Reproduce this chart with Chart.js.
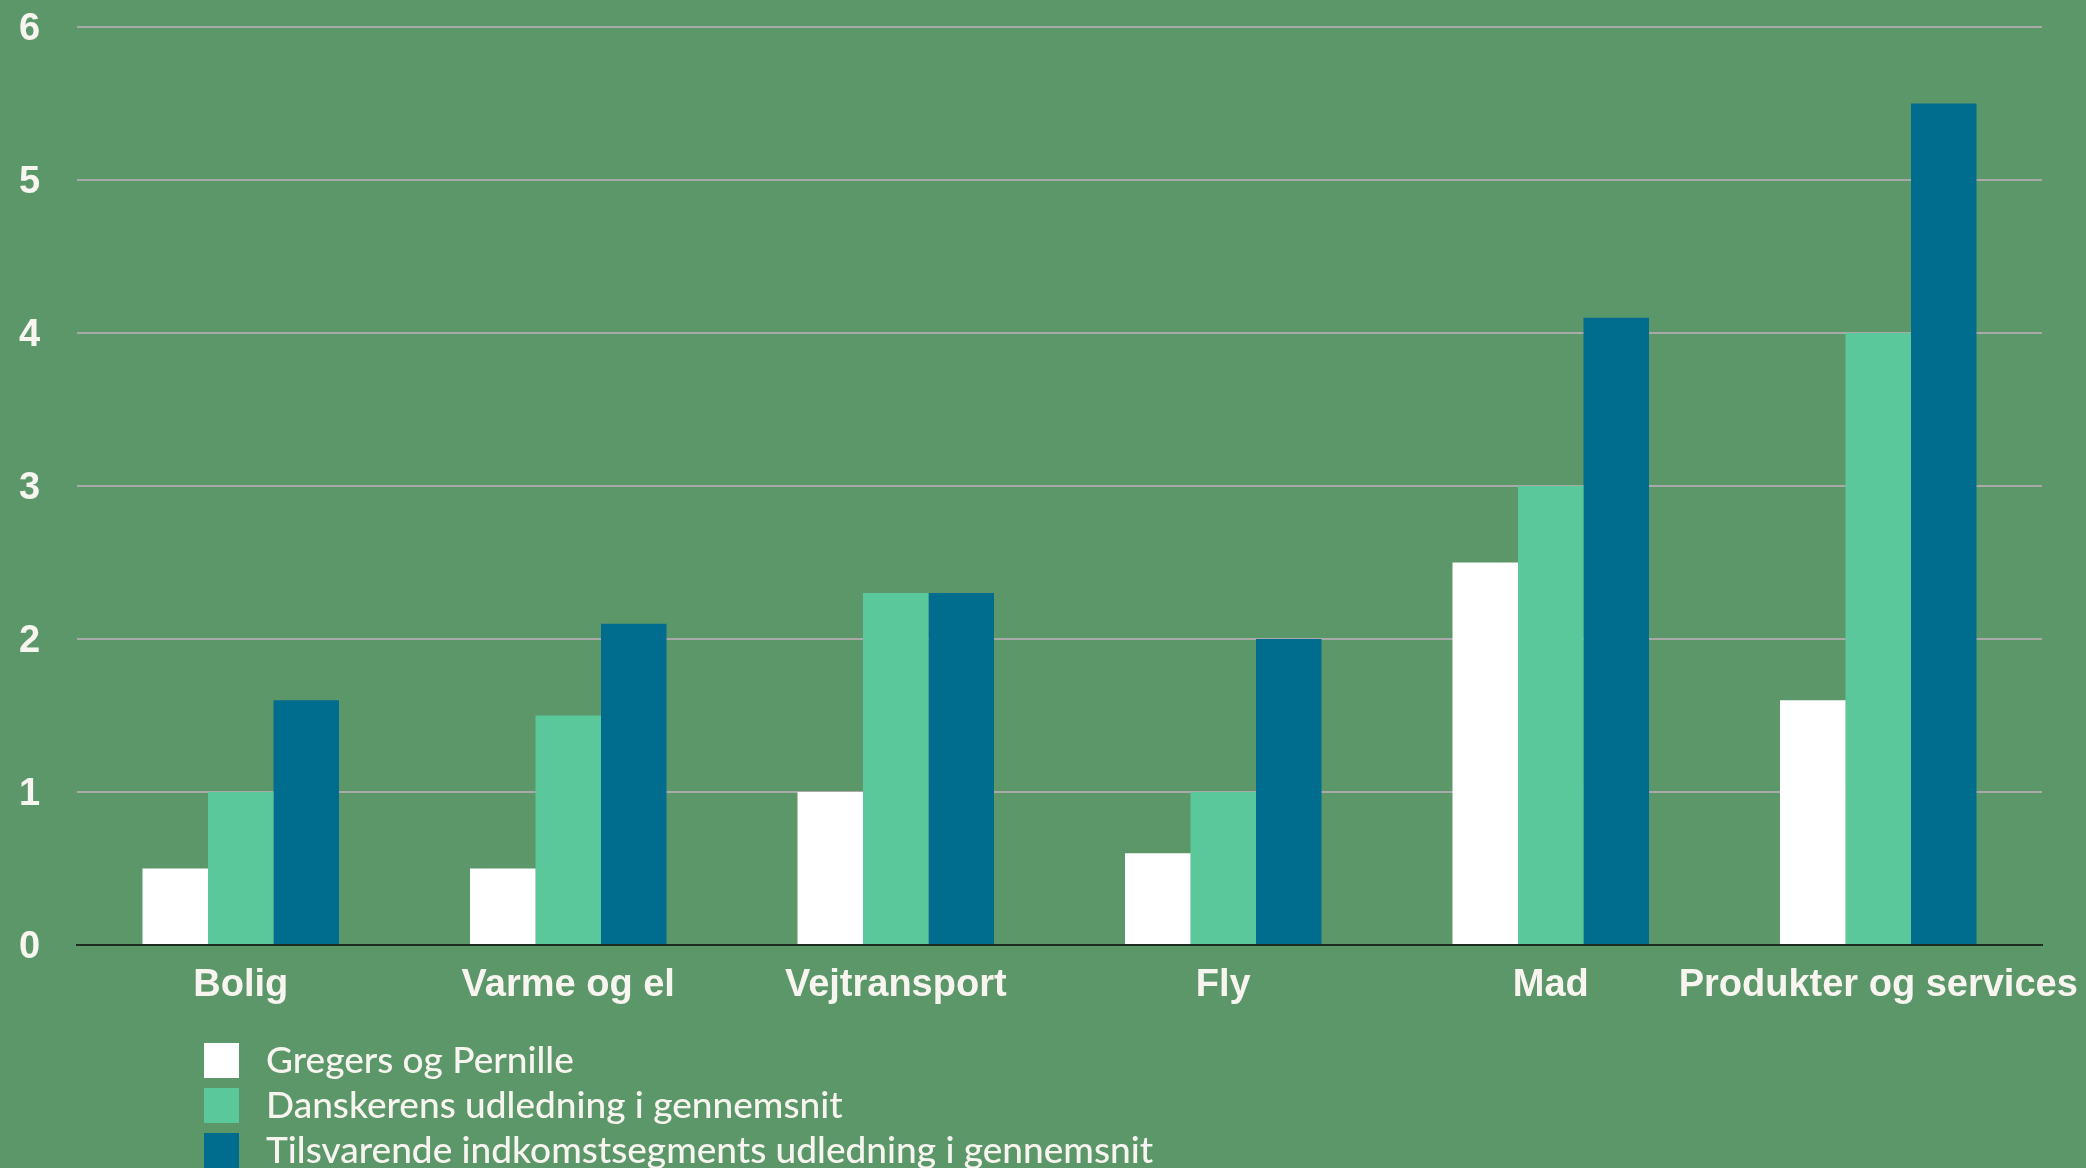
<!DOCTYPE html>
<html>
<head>
<meta charset="utf-8">
<script src="https://cdn.jsdelivr.net/npm/chart.js@4/dist/chart.umd.min.js"></script>
<style>
    html, body { margin: 0; padding: 0; background: #5c976a; }
    #wrap { position: relative; width: 2086px; height: 1168px; }
</style>
</head>
<body>
<div id="wrap"><canvas id="chart"></canvas></div>
<script>
const categories = ['Bolig', 'Varme og el', 'Vejtransport', 'Fly', 'Mad', 'Produkter og services'];
const seriesNames = ['Gregers og Pernille', 'Danskerens udledning i gennemsnit', 'Tilsvarende indkomstsegments udledning i gennemsnit'];
const gregersPernille = [0.5, 0.5, 1.0, 0.6, 2.5, 1.6];
const danskerGennemsnit = [1.0, 1.5, 2.3, 1.0, 3.0, 4.0];
const indkomstSegment = [1.6, 2.1, 2.3, 2.0, 4.1, 5.5];
const yTicks = [0, 1, 2, 3, 4, 5, 6];

const textColor = '#f8f5f1';
const barColors = ['#ffffff', '#5bc89b', '#006d8f'];

// legend stacked in rows under the x labels
const stackedLegend = {
    id: 'stackedLegend',
    afterDraw(chart) {
        const { ctx, chartArea } = chart;
        ctx.save();
        ctx.font = '500 37px Lato';
        ctx.textBaseline = 'middle';
        chart.data.datasets.forEach(function(ds, i) {
            const y = chartArea.bottom + 115 + i * 45;
            const x = chartArea.left + 127;
            ctx.fillStyle = ds.backgroundColor;
            ctx.fillRect(x, y - 17, 35, 35);
            ctx.fillStyle = textColor;
            ctx.fillText(ds.label, x + 62, y + 1);
        });
        ctx.restore();
    }
};

const ctx = document.getElementById('chart').getContext('2d');
new Chart(ctx, {
    type: 'bar',
    data: {
        labels: categories,
        datasets: [gregersPernille, danskerGennemsnit, indkomstSegment].map(function(values, i) {
            return {
                label: seriesNames[i],
                data: values,
                backgroundColor: barColors[i],
                borderWidth: 0,
                categoryPercentage: 0.6,
                barPercentage: 1.0
            };
        })
    },
    options: {
        responsive: true,
        maintainAspectRatio: false,
        animation: false,
        layout: {
            padding: { top: 27, right: 44, bottom: 163, left: 19 }
        },
        plugins: {
            legend: { display: false },
            tooltip: { enabled: false }
        },
        scales: {
            x: {
                grid: { display: false },
                border: { display: true, color: '#1d2b21', width: 2 },
                ticks: {
                    color: textColor,
                    padding: 10,
                    maxRotation: 0,
                    autoSkip: false,
                    font: { family: 'Liberation Sans, Arial', weight: 'bold', size: 38 }
                },
                afterFit: function(scale) {
                    scale.height = 60;
                    // let the last label run into the right margin
                    scale.paddingLeft = 0;
                    scale.paddingRight = 0;
                }
            },
            y: {
                min: 0,
                max: 6,
                afterBuildTicks: function(scale) {
                    scale.ticks = yTicks.map(function(v) { return { value: v }; });
                },
                grid: {
                    color: function(c) { return c.tick && c.tick.value === 0 ? 'rgba(0,0,0,0)' : '#a8a9a8'; },
                    lineWidth: 2,
                    drawTicks: false
                },
                border: { display: false },
                ticks: {
                    color: textColor,
                    padding: 0,
                    crossAlign: 'far',
                    labelOffset: 3,
                    font: { family: 'Liberation Sans, Arial', weight: 'bold', size: 38 }
                },
                afterFit: function(scale) { scale.width = 58; }
            }
        }
    },
    plugins: [stackedLegend]
});
</script>
</body>
</html>
